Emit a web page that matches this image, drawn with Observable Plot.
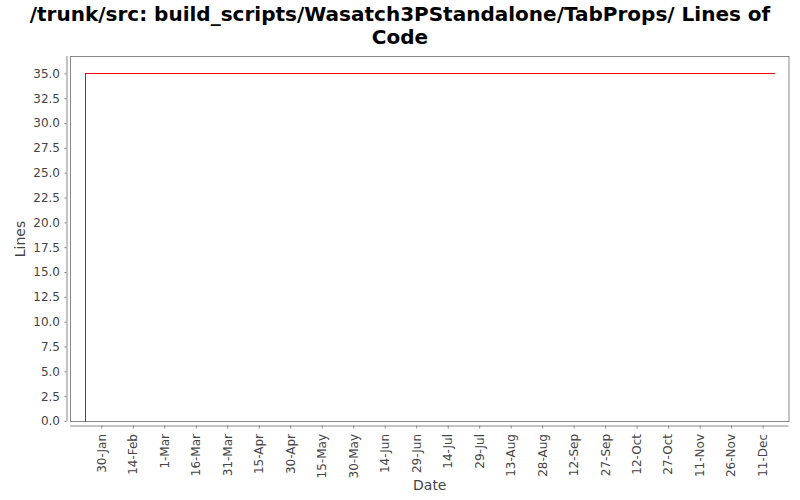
<!DOCTYPE html>
<html>
<head>
<meta charset="utf-8">
<script src="https://cdn.jsdelivr.net/npm/d3@7"></script>
<script src="https://cdn.jsdelivr.net/npm/@observablehq/plot@0.6"></script>
<style>
  html, body { margin: 0; padding: 0; background: #fff; }
  #wrap { width: 800px; height: 500px; position: relative; overflow: hidden; }
  #title { width: 800px; height: 50px; text-align: center; font-family: "DejaVu Sans", sans-serif;
           font-weight: bold; font-size: 20px; line-height: 23px; color: #000; padding-top: 3px; box-sizing: border-box; }
</style>
</head>
<body>
<div id="wrap">
  <div id="title">/trunk/src: build_scripts/Wasatch3PStandalone/TabProps/ Lines of<br>Code</div>
  <div id="chart"></div>
</div>
<script>
const dates = ["2007-01-22T02:00Z", "2007-01-22T02:00Z", "2007-12-16T17:00Z"];
const lines = [0, 35, 35];
const xTickDates = ["2007-01-30", "2007-02-14", "2007-03-01", "2007-03-16", "2007-03-31", "2007-04-15",
  "2007-04-30", "2007-05-15", "2007-05-30", "2007-06-14", "2007-06-29", "2007-07-14", "2007-07-29",
  "2007-08-13", "2007-08-28", "2007-09-12", "2007-09-27", "2007-10-12", "2007-10-27", "2007-11-11",
  "2007-11-26", "2007-12-11"];
const yTicks = [0, 2.5, 5, 7.5, 10, 12.5, 15, 17.5, 20, 22.5, 25, 27.5, 30, 32.5, 35];
const xDomain = ["2007-01-15T02:00Z", "2007-12-23T08:00Z"];
const yDomain = [0, 36.75];

const data = dates.map((d, i) => ({date: new Date(d), value: lines[i]}));
const xTicks = xTickDates.map(d => new Date(d + "T00:00Z"));
const x0 = new Date(xDomain[0]);

const chart = Plot.plot({
  width: 800,
  height: 450,
  marginTop: 6,
  marginBottom: 79,
  marginLeft: 70,
  marginRight: 11.5,
  style: {fontFamily: "DejaVu Sans, sans-serif", fontSize: "12px", background: "#fff"},
  x: {type: "utc", domain: xDomain.map(d => new Date(d))},
  y: {domain: yDomain},
  marks: [
    Plot.frame({stroke: "#888"}),
    Plot.ruleX([x0], {stroke: "#888", dx: -3.5}),
    Plot.ruleY([0], {stroke: "#888", dy: 4.5}),
    Plot.axisY(yTicks, {tickSize: 2, dx: -3.5, tickPadding: 5, stroke: "#888", fill: "#444",
      tickFormat: d => d.toFixed(1), label: null}),
    Plot.axisX(xTicks, {tickSize: 3, dy: 4.5, tickPadding: 5, tickRotate: -90, stroke: "#888", fill: "#444",
      tickFormat: d3.utcFormat("%-d-%b"), label: null}),
    Plot.line(data, {x: "date", y: "value", stroke: "#ff0000", strokeWidth: 1, shapeRendering: "crispEdges"}),
    Plot.text(["Lines"], {frameAnchor: "left", textAnchor: "middle", lineAnchor: "middle", dx: -50, rotate: -90, fill: "#444", fontSize: 14}),
    Plot.text(["Date"], {frameAnchor: "bottom", textAnchor: "middle", lineAnchor: "middle", dy: 64, fill: "#444", fontSize: 14})
  ]
});
document.getElementById("chart").appendChild(chart);
</script>
</body>
</html>
